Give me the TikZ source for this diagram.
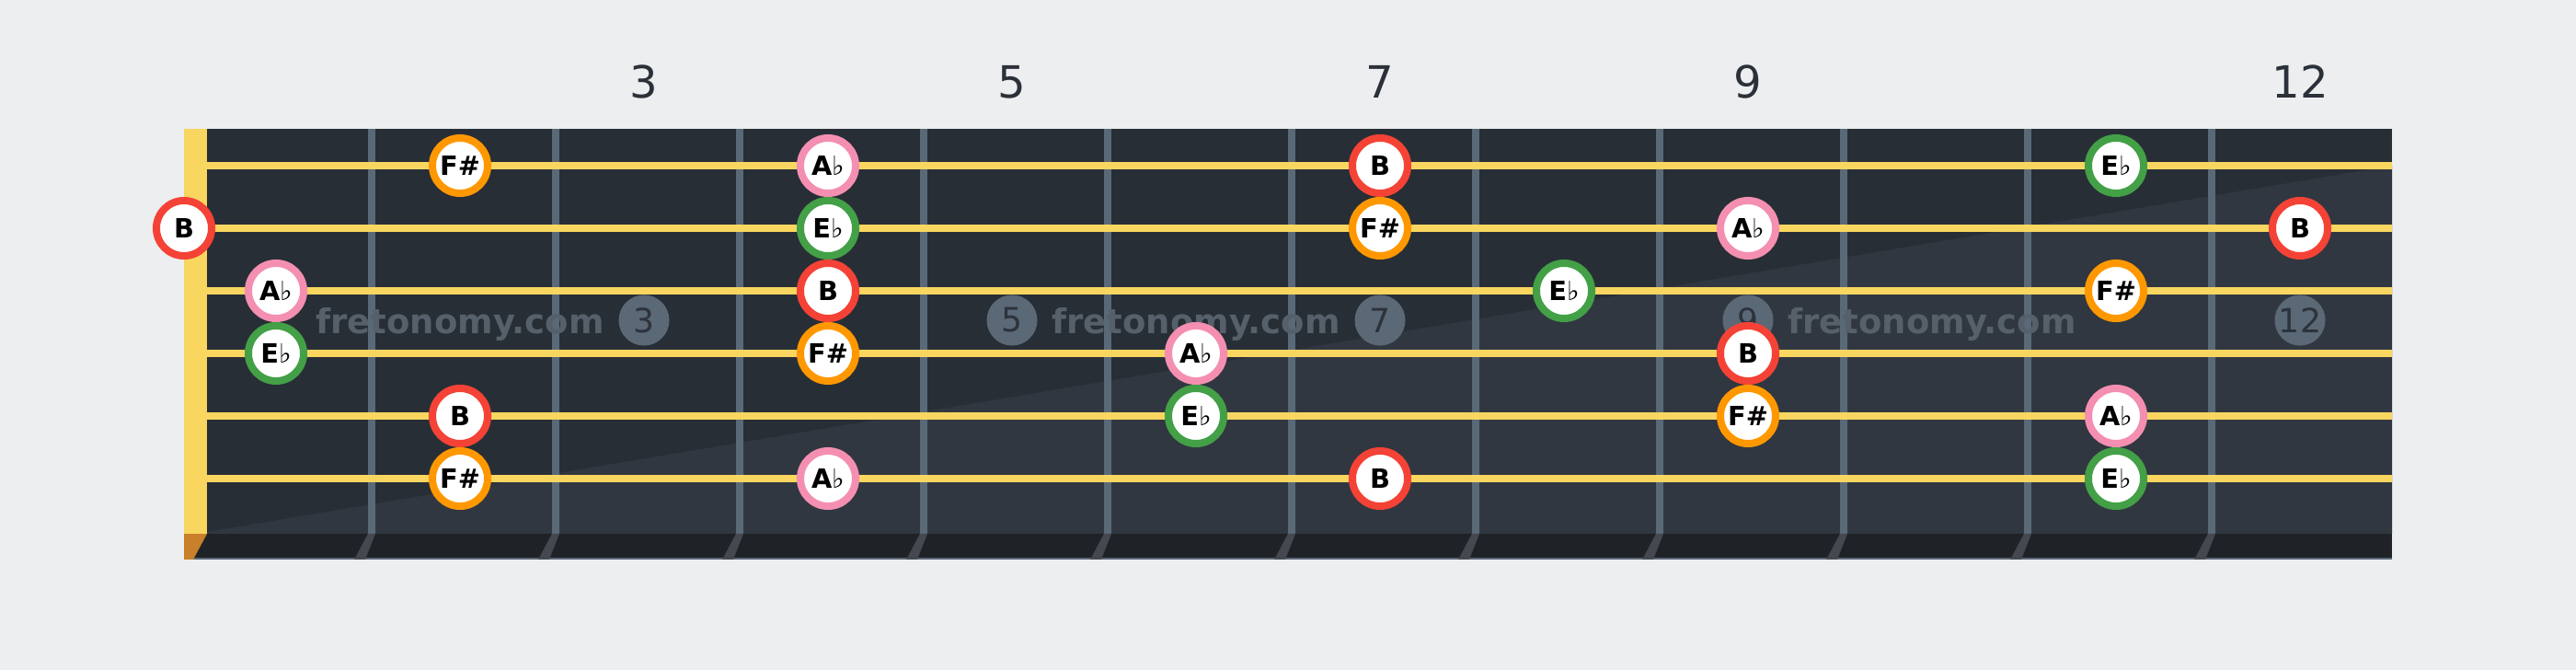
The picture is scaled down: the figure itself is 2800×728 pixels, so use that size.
\documentclass[tikz,border=0pt]{standalone}
\usepackage{fontspec}
\setmainfont{DejaVu Sans}
\definecolor{bgcol}{HTML}{EDEEF0}
\definecolor{boardcol}{HTML}{282E36}
\definecolor{boardlight}{HTML}{313740}
\definecolor{stripcol}{HTML}{1F2328}
\definecolor{fretcol}{HTML}{5A6978}
\definecolor{fretshade}{HTML}{45494F}
\definecolor{stringcol}{HTML}{F8D660}
\definecolor{nutbase}{HTML}{C8802A}
\definecolor{numcol}{HTML}{2B3139}
\definecolor{markcol}{HTML}{5B6876}
\definecolor{markdigit}{HTML}{2D333B}
\definecolor{wmarkcol}{HTML}{56606B}
\definecolor{noteB}{HTML}{F44336}
\definecolor{noteF}{HTML}{FF9800}
\definecolor{noteA}{HTML}{F48FB1}
\definecolor{noteE}{HTML}{43A047}
\newcommand{\flt}{{\normalfont\symbol{"266D}}}
\newcommand{\lblB}{B}
\newcommand{\lblF}{F\#}
\newcommand{\lblA}{A\flt}
\newcommand{\lblE}{E\flt}
\tikzset{
  note/.style={circle,fill=white,draw=note#1,line width=0.8mm,minimum size=6mm,
    inner sep=0pt,font=\fontsize{8.2}{9}\selectfont\bfseries},
  fretnum/.style={text=numcol,font=\fontsize{13.7}{15}\selectfont},
  marker/.style={circle,fill=markcol,text=markdigit,minimum size=5.5mm,inner sep=0pt,
    font=\fontsize{10.3}{11}\selectfont},
  wmark/.style={text=wmarkcol,anchor=base,font=\fontsize{10.5}{12}\selectfont\bfseries}
}
\begin{document}
\begin{tikzpicture}[x=0.01cm,y=-0.01cm]
  %\draw[help lines,step=100](0,0) grid (2800,728);
  \fill[bgcol] (0,0) rectangle (2800,728);
  \useasboundingbox (0,0) rectangle (2800,728);

  % board
  \fill[boardcol] (200,140) rectangle (2600,580);
  \fill[boardlight] (225,578)--(2600,180)--(2600,580)--(225,580)--cycle;
  \fill[stripcol] (200,580) rectangle (2600,608);
  \draw[fretcol,line width=0.2mm] (210,607)--(2600,607);
  \fill[nutbase] (200,580)--(225,580)--(210,608)--(200,608)--cycle;
  \fill[stringcol] (200,140) rectangle (225,580);

  % frets
  \foreach\k in {1,...,11}{
    \draw[fretcol,line width=0.8mm] ({204+200*\k},140)--({204+200*\k},580);
    \fill[fretshade] ({200+200*\k},580)--({208+200*\k},580)--({197+200*\k},608)--({185+200*\k},608)--cycle;
  }

  % fret numbers and markers
  \foreach\x/\k in {700/3,1100/5,1500/7,1900/9,2500/12}{
    \node[fretnum] (num-\k) at (\x,89) {\k};
    \node[marker] (mark-\k) at (\x,348) {\k};
  }
  \node[wmark] (wm-1) at (500,363) {fretonomy.com};
  \node[wmark] (wm-2) at (1300,363) {fretonomy.com};
  \node[wmark] (wm-3) at (2100,363) {fretonomy.com};

  % strings
  \foreach\s in {1,...,6}{
    \draw[stringcol,line width=0.8mm] (225,{112+68*\s})--(2600,{112+68*\s});
  }

  % notes
  \foreach\x/\s/\n in {
    500/1/F, 900/1/A, 1500/1/B, 2300/1/E,
    200/2/B, 900/2/E, 1500/2/F, 1900/2/A, 2500/2/B,
    300/3/A, 900/3/B, 1700/3/E, 2300/3/F,
    300/4/E, 900/4/F, 1300/4/A, 1900/4/B,
    500/5/B, 1300/5/E, 1900/5/F, 2300/5/A,
    500/6/F, 900/6/A, 1500/6/B, 2300/6/E}{%
    \node[note=\n] (n-\s-\x) at (\x,{112+68*\s}) {\csname lbl\n\endcsname};}
\end{tikzpicture}
\end{document}
